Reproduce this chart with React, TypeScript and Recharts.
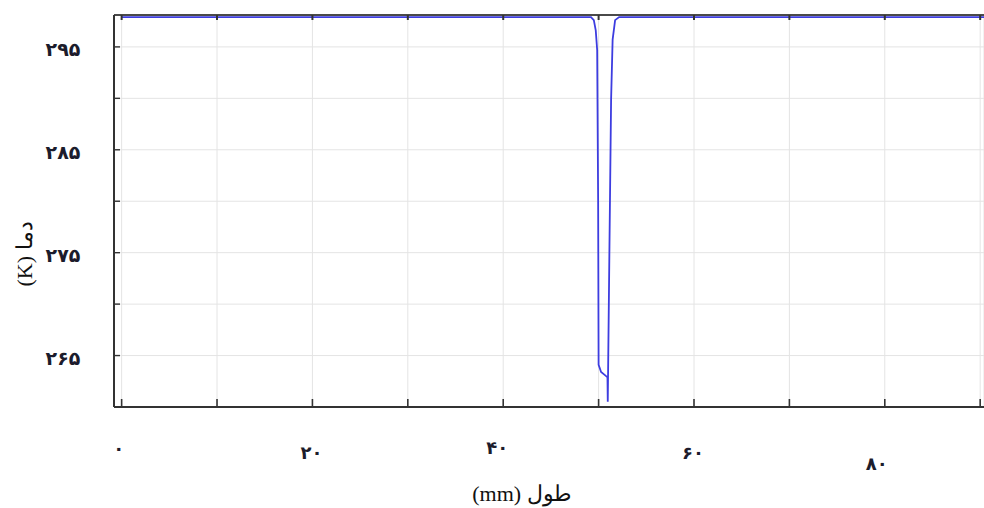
import React from 'react';
import { LineChart, Line, XAxis, YAxis, CartesianGrid } from 'recharts';

// Position along the length (mm) and temperature (K)
const positionMm = [0, 10, 20, 30, 40, 49.2, 49.5, 49.7, 49.85, 49.95, 50.0, 50.26, 50.79, 50.93, 50.96, 51.13, 51.31, 51.47, 51.73, 52.15, 60, 70, 80, 90.4];
const temperatureK = [297.9, 297.9, 297.9, 297.9, 297.9, 297.9, 297.6, 296.6, 294.7, 280.1, 264.1, 263.4, 263.0, 262.9, 260.5, 275.0, 289.9, 295.7, 297.6, 297.9, 297.9, 297.9, 297.9, 297.9];

const xTicks = [0, 10, 20, 30, 40, 50, 60, 70, 80, 90];
const xTickLabels: Record<number, string> = { 0: '۰', 20: '۲۰', 40: '۴۰', 60: '۶۰', 80: '۸۰' };
const yTicks = [260, 265, 270, 275, 280, 285, 290, 295];
const yTickLabels: Record<number, string> = { 265: '۲۶۵', 275: '۲۷۵', 285: '۲۸۵', 295: '۲۹۵' };

const xTitle = '(mm) طول';
const yTitle = '(K) دما';

const data = positionMm.map((x, i) => ({ x, t: temperatureK[i] }));

// label placement styling (offsets from the tick on the axis line)
const xLabelOffset: Record<number, { dx: number; dy: number }> = {
  0: { dx: -3, dy: 41 },
  20: { dx: -1, dy: 45 },
  40: { dx: -6, dy: 40 },
  60: { dx: -1, dy: 45 },
  80: { dx: -8, dy: 56 },
};

const AXIS_COLOR = '#333333';
const LABEL_FONT = '"DejaVu Sans", sans-serif';
const TITLE_FONT = '"Liberation Serif", "DejaVu Serif", serif';

const BottomTick = (props: any) => {
  const { x, y, payload } = props;
  const v = payload.value;
  const label = xTickLabels[v];
  const off = xLabelOffset[v] || { dx: 0, dy: 45 };
  return (
    <g>
      <line x1={x} y1={y} x2={x} y2={y - 8} stroke={AXIS_COLOR} strokeWidth={1.6} />
      {label ? (
        <text
          x={x + off.dx}
          y={y + off.dy}
          textAnchor="middle"
          dominantBaseline="central"
          fontFamily={LABEL_FONT}
          fontWeight="bold"
          fontSize={18}
          fill="#1c1c2c"
        >
          {label}
        </text>
      ) : null}
    </g>
  );
};

const TopTick = (props: any) => {
  const { x, y } = props;
  return <line x1={x} y1={y} x2={x} y2={y + 5} stroke={AXIS_COLOR} strokeWidth={2} />;
};

const LeftTick = (props: any) => {
  const { x, y, payload } = props;
  const label = yTickLabels[payload.value];
  return (
    <g>
      <line x1={x} y1={y} x2={x + 6} y2={y} stroke={AXIS_COLOR} strokeWidth={1.4} />
      {label ? (
        <text
          x={x - 51}
          y={y + 2}
          textAnchor="middle"
          dominantBaseline="central"
          fontFamily={LABEL_FONT}
          fontWeight="bold"
          fontSize={19}
          fill="#1c1c2c"
        >
          {label}
        </text>
      ) : null}
    </g>
  );
};

export default function App() {
  return (
    <div style={{ position: 'absolute', left: 0, top: 0, width: 984, height: 508, background: '#ffffff' }}>
      <LineChart width={984} height={508} data={data} margin={{ top: 0, right: 0, bottom: 0, left: 0 }}>
        <CartesianGrid stroke="#e4e4e4" strokeWidth={1} />
        <XAxis
          dataKey="x"
          type="number"
          domain={[-0.8, 90.4]}
          ticks={xTicks}
          interval={0}
          allowDataOverflow
          height={101}
          tickSize={0}
          tickMargin={0}
          tick={BottomTick}
          axisLine={{ stroke: AXIS_COLOR, strokeWidth: 2 }}
          label={{
            content: () => (
              <text
                x={522}
                y={493}
                textAnchor="middle"
                dominantBaseline="central"
                fontFamily={TITLE_FONT}
                fontSize={22}
                fill="#111"
              >
                {xTitle}
              </text>
            ),
          }}
        />
        <XAxis
          xAxisId="top"
          orientation="top"
          dataKey="x"
          type="number"
          domain={[-0.8, 90.4]}
          ticks={xTicks}
          interval={0}
          allowDataOverflow
          height={15}
          tickSize={0}
          tickMargin={0}
          tick={TopTick}
          axisLine={{ stroke: '#4a4a4a', strokeWidth: 2 }}
        />
        <YAxis
          type="number"
          domain={[260, 298.1]}
          ticks={yTicks}
          interval={0}
          allowDataOverflow
          width={114}
          tickSize={0}
          tickMargin={0}
          tick={LeftTick}
          axisLine={{ stroke: AXIS_COLOR, strokeWidth: 2 }}
          label={{
            content: () => (
              <text
                transform="translate(24,254) rotate(-90)"
                textAnchor="middle"
                dominantBaseline="central"
                fontFamily={TITLE_FONT}
                fontSize={22}
                fill="#111"
              >
                {yTitle}
              </text>
            ),
          }}
        />
        <Line
          dataKey="t"
          type="linear"
          stroke="#3d3de0"
          strokeWidth={1.8}
          dot={false}
          isAnimationActive={false}
        />
      </LineChart>
    </div>
  );
}
